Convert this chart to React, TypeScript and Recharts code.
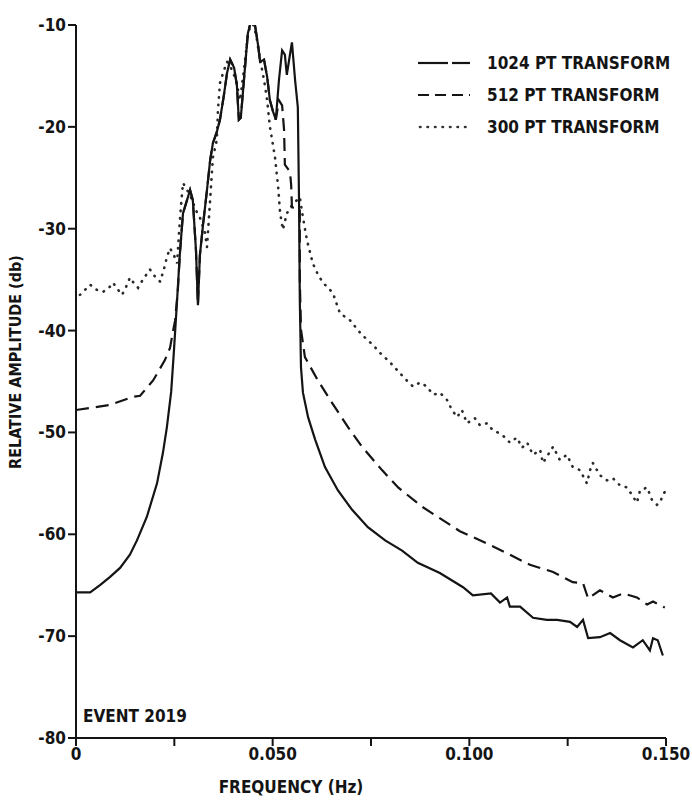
import React from "react";
import {
  LineChart,
  Line,
  XAxis,
  YAxis,
  Customized,
} from "recharts";

// frequency (Hz) / relative amplitude (db)
const freq1024 = [
  0, 0.0036, 0.0061, 0.0086, 0.0112, 0.0137, 0.0155, 0.018, 0.0206, 0.0221,
  0.0231, 0.0242, 0.0249, 0.0257, 0.0264, 0.0272, 0.029, 0.0297, 0.0305,
  0.031, 0.0315, 0.0323, 0.0333, 0.0341, 0.0348, 0.0358, 0.0366, 0.0376, 0.0384,
  0.0392, 0.0402, 0.0409, 0.0414, 0.0419, 0.0427, 0.0437, 0.0447, 0.0455, 0.0463,
  0.0468, 0.0478, 0.0486, 0.0493, 0.0501, 0.0508, 0.0516, 0.0524, 0.0531, 0.0536,
  0.0544, 0.0549, 0.0557, 0.0564, 0.0567, 0.0569, 0.0572, 0.0577, 0.059, 0.0608,
  0.0633, 0.0666, 0.0702, 0.0742, 0.0786, 0.0829, 0.0869, 0.0925, 0.0984, 0.1009,
  0.1055, 0.1078, 0.1096, 0.1103, 0.1129, 0.1162, 0.1197, 0.1223, 0.1256, 0.1274,
  0.1289, 0.1302, 0.1332, 0.1358, 0.1383, 0.1416, 0.1441, 0.1459, 0.1467, 0.1479,
  0.1492,
];
const amp1024 = [
  -65.7, -65.7, -65.0, -64.2, -63.3, -62.0, -60.6, -58.3, -55.0, -52.0,
  -49.5, -46.0, -42.0, -37.0, -32.5, -28.5, -26.2, -27.2, -32.1,
  -37.5, -32.6, -29.6, -26.2, -23.3, -21.6, -20.5, -19.3, -16.9, -14.7,
  -13.4, -14.2, -15.9, -19.3, -19.1, -15.4, -10.8, -9.3, -10.0, -12.0,
  -13.6, -13.4, -15.1, -17.4, -18.5, -19.3, -15.4, -12.5, -12.9, -14.9,
  -12.9, -11.7, -15.4, -18.1, -27.2, -37.0, -43.6, -46.1, -48.5, -50.7,
  -53.4, -55.7, -57.6, -59.3, -60.6, -61.6, -62.8, -63.8, -65.2, -66.0,
  -65.8, -66.7, -66.2, -67.1, -67.1, -68.2, -68.4, -68.4, -68.6, -69.1,
  -68.4, -70.2, -70.1, -69.7, -70.4, -71.1, -70.4, -71.4, -70.2, -70.4,
  -71.9,
];

const freq512 = [
  0, 0.0036, 0.0086, 0.0145, 0.0163, 0.0196, 0.0226, 0.0239, 0.0247, 0.0252,
  0.0259, 0.0264, 0.0272, 0.029, 0.0297, 0.0305, 0.031, 0.0315, 0.0323, 0.0333,
  0.0341, 0.0348, 0.0358, 0.0366, 0.0376, 0.0384, 0.0392, 0.0402, 0.0409, 0.0414,
  0.0419, 0.0427, 0.0437, 0.0447, 0.0455, 0.0463, 0.0468, 0.0478, 0.0486, 0.0493,
  0.0501, 0.0508, 0.0516, 0.0524, 0.0529, 0.0531, 0.0544, 0.0547, 0.0549, 0.0569,
  0.0569, 0.0572, 0.0582, 0.0615, 0.0651, 0.0692, 0.0727, 0.0778, 0.0819, 0.088,
  0.0976, 0.1045, 0.1103, 0.1154, 0.1213, 0.1263, 0.1289, 0.1302, 0.1332, 0.1365,
  0.1391, 0.1426, 0.1452, 0.1467, 0.1497,
];
const amp512 = [
  -47.8, -47.6, -47.3, -46.5, -46.4, -44.9, -42.9, -41.7, -40.0, -39.0,
  -36.0, -32.5, -28.5, -26.2, -27.2, -32.1, -37.5, -32.6, -29.6, -26.2,
  -23.3, -21.6, -20.5, -19.3, -16.9, -14.7, -13.4, -14.2, -15.9, -19.3,
  -19.1, -15.4, -10.8, -9.3, -10.0, -12.0, -13.6, -13.4, -15.1, -17.4,
  -18.5, -19.3, -17.4, -17.9, -20.3, -23.7, -24.4, -25.7, -27.9, -28.0,
  -35.0, -39.9, -42.6, -44.9, -47.1, -49.5, -51.4, -53.7, -55.4, -57.3,
  -59.7, -60.9, -62.0, -63.0, -63.7, -64.7, -64.8, -66.3, -65.5, -66.2,
  -65.8, -66.2, -66.9, -66.6, -67.2,
];

const freq300 = [
  0.001, 0.0036, 0.0053, 0.0069, 0.0086, 0.0094, 0.0107, 0.0117, 0.013, 0.0137,
  0.015, 0.0158, 0.017, 0.0188, 0.0201, 0.0214, 0.0224, 0.0231, 0.0239, 0.0249,
  0.0257, 0.0262, 0.0267, 0.0272, 0.029, 0.0305, 0.0315, 0.0328, 0.0333, 0.0341,
  0.0348, 0.0358, 0.0361, 0.0366, 0.0374, 0.0384, 0.0394, 0.0407, 0.0417, 0.0427,
  0.0437, 0.0447, 0.0458, 0.0468, 0.0478, 0.0486, 0.0493, 0.0506, 0.0514, 0.0519,
  0.0526, 0.0536, 0.0549, 0.0569, 0.0577, 0.0587, 0.0602, 0.0615, 0.0628, 0.0653,
  0.0671, 0.0697, 0.0722, 0.074, 0.0755, 0.0773, 0.0798, 0.0824, 0.0841, 0.0857,
  0.0875, 0.0892, 0.0908, 0.0925, 0.0943, 0.0956, 0.0969, 0.0981, 0.0994, 0.1014,
  0.1027, 0.1045, 0.106, 0.1078, 0.1091, 0.1103, 0.1121, 0.1134, 0.1147, 0.1162,
  0.118, 0.1187, 0.12, 0.1213, 0.123, 0.1248, 0.1263, 0.1281, 0.1299, 0.1307,
  0.1314, 0.1332, 0.135, 0.1365, 0.1383, 0.1401, 0.1413, 0.1426, 0.1434, 0.1452,
  0.1464, 0.1477, 0.1485, 0.1492, 0.15,
];
const amp300 = [
  -36.5, -35.5, -36.0, -36.2, -35.7, -35.3, -36.0, -36.5, -35.5, -34.8,
  -35.5, -35.8, -35.0, -34.0, -34.7, -35.2, -33.9, -32.8, -31.9, -32.6,
  -33.4, -30.3, -27.7, -25.5, -26.7, -28.2, -28.9, -30.4, -31.8, -27.2,
  -23.0, -21.3, -18.3, -15.7, -14.7, -13.6, -14.2, -15.4, -17.4, -14.4,
  -11.0, -9.5, -11.0, -13.4, -15.4, -17.4, -20.0, -23.0, -25.9, -28.5,
  -30.1, -28.5, -27.7, -26.9, -28.9, -31.1, -33.4, -34.5, -35.3, -36.3,
  -38.3, -39.0, -40.2, -40.9, -41.4, -42.2, -43.1, -44.2, -44.9, -45.5,
  -45.1, -45.5, -46.3, -46.1, -46.8, -47.8, -48.5, -47.8, -49.1, -48.6,
  -49.3, -49.1, -49.8, -50.1, -50.5, -51.0, -50.5, -51.5, -51.0, -52.2,
  -51.7, -53.0, -52.2, -51.4, -52.7, -52.2, -53.4, -53.7, -55.0, -53.7,
  -53.0, -54.2, -54.7, -54.5, -55.2, -55.4, -56.1, -56.9, -55.7, -55.4,
  -56.6, -57.1, -56.9, -56.1, -55.7,
];

const xTicks = [0, 0.025, 0.05, 0.075, 0.1, 0.125, 0.15];
const xTickLabels = ["0", "", "0.050", "", "0.100", "", "0.150"];
const yTicks = [-80, -70, -60, -50, -40, -30, -20, -10];

const legendItems = ["1024 PT TRANSFORM", "512 PT TRANSFORM", "300 PT TRANSFORM"];

const toSeries = (fs: number[], amps: number[]) =>
  fs.map((f, i) => ({ f, db: amps[i] }));

const series1024 = toSeries(freq1024, amp1024);
const series512 = toSeries(freq512, amp512);
const series300 = toSeries(freq300, amp300);

const FONT = "'DejaVu Sans Condensed', 'DejaVu Sans', sans-serif";
const INK = "#141414";

function Overlay() {
  const rows = [63, 95, 127];
  return (
    <g fontFamily={FONT} fontWeight="bold" fill={INK}>
      {/* legend */}
      <line x1={418} x2={448} y1={rows[0]} y2={rows[0]} stroke={INK} strokeWidth={2.2} />
      <line x1={452} x2={470} y1={rows[0]} y2={rows[0]} stroke={INK} strokeWidth={2.2} />
      <line x1={418} x2={470} y1={rows[1]} y2={rows[1]} stroke={INK} strokeWidth={2.2} strokeDasharray="11 6" />
      <line x1={420} x2={470} y1={rows[2]} y2={rows[2]} stroke="#333" strokeWidth={2.6} strokeDasharray="0.5 7" strokeLinecap="round" />
      {legendItems.map((t, i) => (
        <text key={t} x={487} y={rows[i] + 6} fontSize={17}>
          {t}
        </text>
      ))}
      <text x={83} y={722} fontSize={17}>
        EVENT 2019
      </text>
    </g>
  );
}

export default function App() {
  return (
    <div style={{ position: "absolute", left: 0, top: 0, background: "#fff" }}>
      <LineChart
        width={692}
        height={802}
        margin={{ top: 25, right: 26, bottom: 6, left: 0 }}
      >
        <XAxis
          type="number"
          dataKey="f"
          domain={[0, 0.15]}
          ticks={xTicks}
          allowDataOverflow
          height={58}
          tickSize={8}
          tickFormatter={(_v: number, i: number) => xTickLabels[i]}
          tick={{ fill: INK, fontSize: 17, fontFamily: FONT, fontWeight: "bold" }}
          axisLine={{ stroke: INK, strokeWidth: 2 }}
          tickLine={{ stroke: INK, strokeWidth: 2 }}
          label={{
            content: () => (
              <text
                x={291}
                y={793}
                textAnchor="middle"
                fontFamily={FONT}
                fontWeight="bold"
                fontSize={17}
                fill={INK}
              >
                FREQUENCY (Hz)
              </text>
            ),
          }}
        />
        <YAxis
          type="number"
          dataKey="db"
          domain={[-80, -10]}
          ticks={yTicks}
          allowDataOverflow
          width={76}
          tickSize={8}
          tick={{ fill: INK, fontSize: 17, fontFamily: FONT, fontWeight: "bold" }}
          axisLine={{ stroke: INK, strokeWidth: 2 }}
          tickLine={{ stroke: INK, strokeWidth: 2 }}
          label={{
            content: () => (
              <text
                transform="translate(21,362) rotate(-90)"
                textAnchor="middle"
                fontFamily={FONT}
                fontWeight="bold"
                fontSize={16}
                fill={INK}
              >
                RELATIVE AMPLITUDE (db)
              </text>
            ),
          }}
        />
        <Line
          data={series300}
          dataKey="db"
          type="linear"
          stroke="#2a2a2a"
          strokeWidth={2.6}
          strokeDasharray="0.5 7"
          strokeLinecap="round"
          dot={false}
          isAnimationActive={false}
        />
        <Line
          data={series512}
          dataKey="db"
          type="linear"
          stroke={INK}
          strokeWidth={2.2}
          strokeDasharray="13 7"
          dot={false}
          isAnimationActive={false}
        />
        <Line
          data={series1024}
          dataKey="db"
          type="linear"
          stroke={INK}
          strokeWidth={2.2}
          dot={false}
          isAnimationActive={false}
        />
        <Customized component={Overlay} />
      </LineChart>
    </div>
  );
}
